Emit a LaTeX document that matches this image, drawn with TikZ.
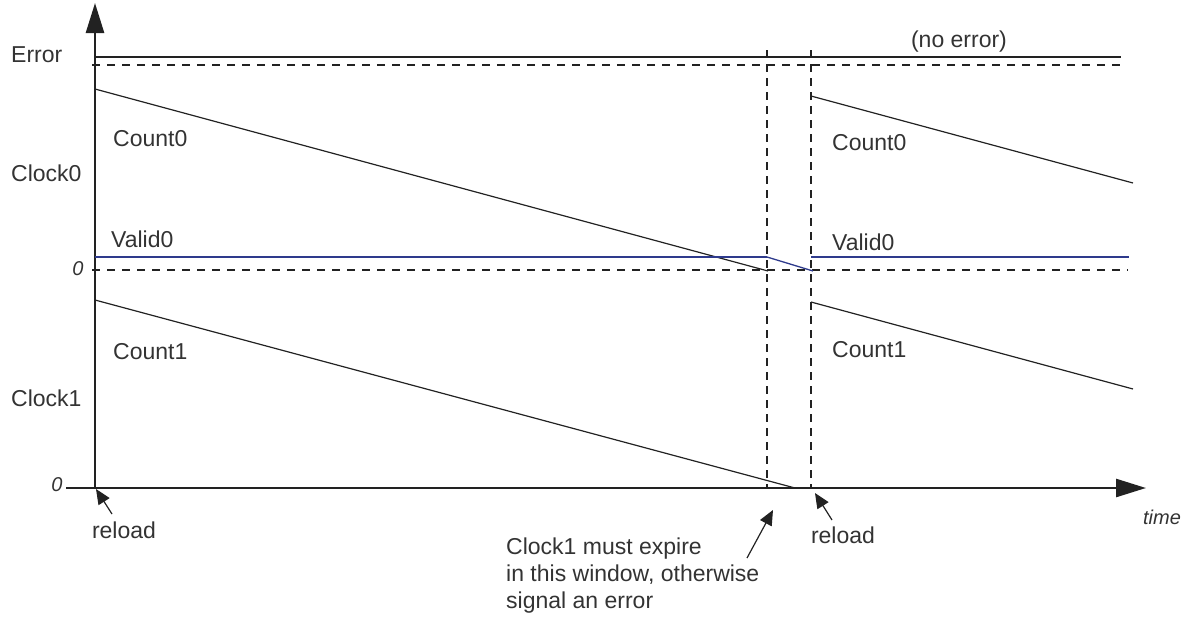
\documentclass[tikz,border=0pt]{standalone}
\usepackage{fontspec}
\setmainfont{Liberation Sans}
\usetikzlibrary{arrows.meta}
\definecolor{ink}{HTML}{222222}
\definecolor{txt}{HTML}{333333}
\definecolor{validblue}{HTML}{2E3A8C}
\begin{document}
\begin{tikzpicture}[x=1pt,y=-1pt,
  lbl/.style={inner sep=0pt,text=txt,font=\fontsize{23}{26}\selectfont},
  ilbl/.style={lbl,font=\fontsize{20}{24}\selectfont\itshape},
  axis/.style={ink,line width=2.6pt,-{Triangle[length=30pt,width=18pt]}},
  sig/.style={ink,line width=1.2pt},
  dsh/.style={ink,line width=2.2pt,dash pattern=on 8pt off 7pt},
  vdsh/.style={ink,line width=2pt,dash pattern=on 8pt off 6pt},
  valid/.style={validblue,line width=2.4pt},
  ptr/.style={ink,line width=1.2pt,-{Triangle[length=15pt,width=13pt]}}]
\useasboundingbox (0,0) rectangle (1187,619);
% coordinates
\coordinate (o) at (95,488);
\coordinate (ytip) at (95,3);
\coordinate (xstart) at (66,488);
\coordinate (xtip) at (1146,488);
% axes
\draw[axis] (o) -- (ytip);
\draw[axis] (xstart) -- (xtip);
% error lines
\coordinate (e1) at (95,57); \coordinate (e2) at (1121,57);
\draw[ink,line width=2pt] (e1) -- (e2);
\coordinate (ed1) at (92,65); \coordinate (ed2) at (1125,65);
\draw[dsh] (ed1) -- (ed2);
% zero line of clock0
\coordinate (z1) at (92,270); \coordinate (z2) at (1128,270);
\draw[dsh] (z1) -- (z2);
% window verticals
\coordinate (w1t) at (767,50); \coordinate (w1b) at (767,488);
\coordinate (w2t) at (811,50); \coordinate (w2b) at (811,488);
\draw[vdsh] (w1t) -- (w1b);
\draw[vdsh] (w2t) -- (w2b);
% counts
\coordinate (c0a1) at (95,89); \coordinate (c0a2) at (768,271);
\coordinate (c0b1) at (811,96); \coordinate (c0b2) at (1133,183);
\coordinate (c1a1) at (95,300); \coordinate (c1a2) at (795,488);
\coordinate (c1b1) at (811,302); \coordinate (c1b2) at (1133,389);
\draw[sig] (c0a1) -- (c0a2);
\draw[sig] (c0b1) -- (c0b2);
\draw[sig] (c1a1) -- (c1a2);
\draw[sig] (c1b1) -- (c1b2);
% valid0
\coordinate (v1) at (95,257); \coordinate (v2) at (767,257);
\coordinate (v3) at (813,271);
\coordinate (v4) at (811,257); \coordinate (v5) at (1129,257);
\draw[valid] (v1) -- (v2);
\draw[validblue,line width=1.3pt] (v2) -- (v3);
\draw[valid] (v4) -- (v5);
% labels
\node[lbl,anchor=west] (lerr) at (11,55) {Error};
\node[lbl] (lnoerr) at (959,42) {(no error)};
\node[lbl,anchor=west] (lc0a) at (113,139) {Count0};
\node[lbl,anchor=west] (lclk0) at (11,173) {Clock0};
\node[lbl,anchor=west] (lv0a) at (111,239) {Valid0};
\node[ilbl] (lzero0) at (78,269) {0};
\node[lbl,anchor=west] (lc0b) at (832,143) {Count0};
\node[lbl,anchor=west] (lv0b) at (832,242) {Valid0};
\node[lbl,anchor=west] (lc1a) at (113,352) {Count1};
\node[lbl,anchor=west] (lclk1) at (11,398) {Clock1};
\node[lbl,anchor=west] (lc1b) at (832,350) {Count1};
\node[ilbl] (lzero1) at (57,485) {0};
\node[lbl] (lrel1) at (124,530) {reload};
\node[lbl] (lrel2) at (843,535) {reload};
\node[ilbl] (ltime) at (1162,517) {time};
\node[lbl,anchor=north west,align=left,font=\fontsize{23}{27}\selectfont] (lnote) at (506,538)
  {Clock1 must expire\\in this window, otherwise\\signal an error};
% pointers
\coordinate (r1t) at (112,514); \coordinate (r1h) at (96,489);
\coordinate (r2t) at (832,520); \coordinate (r2h) at (815,493);
\coordinate (wt) at (747,558); \coordinate (wh) at (773,510);
\draw[ptr] (r1t) -- (r1h);
\draw[ptr] (r2t) -- (r2h);
\draw[ptr] (wt) -- (wh);
\end{tikzpicture}
\end{document}
